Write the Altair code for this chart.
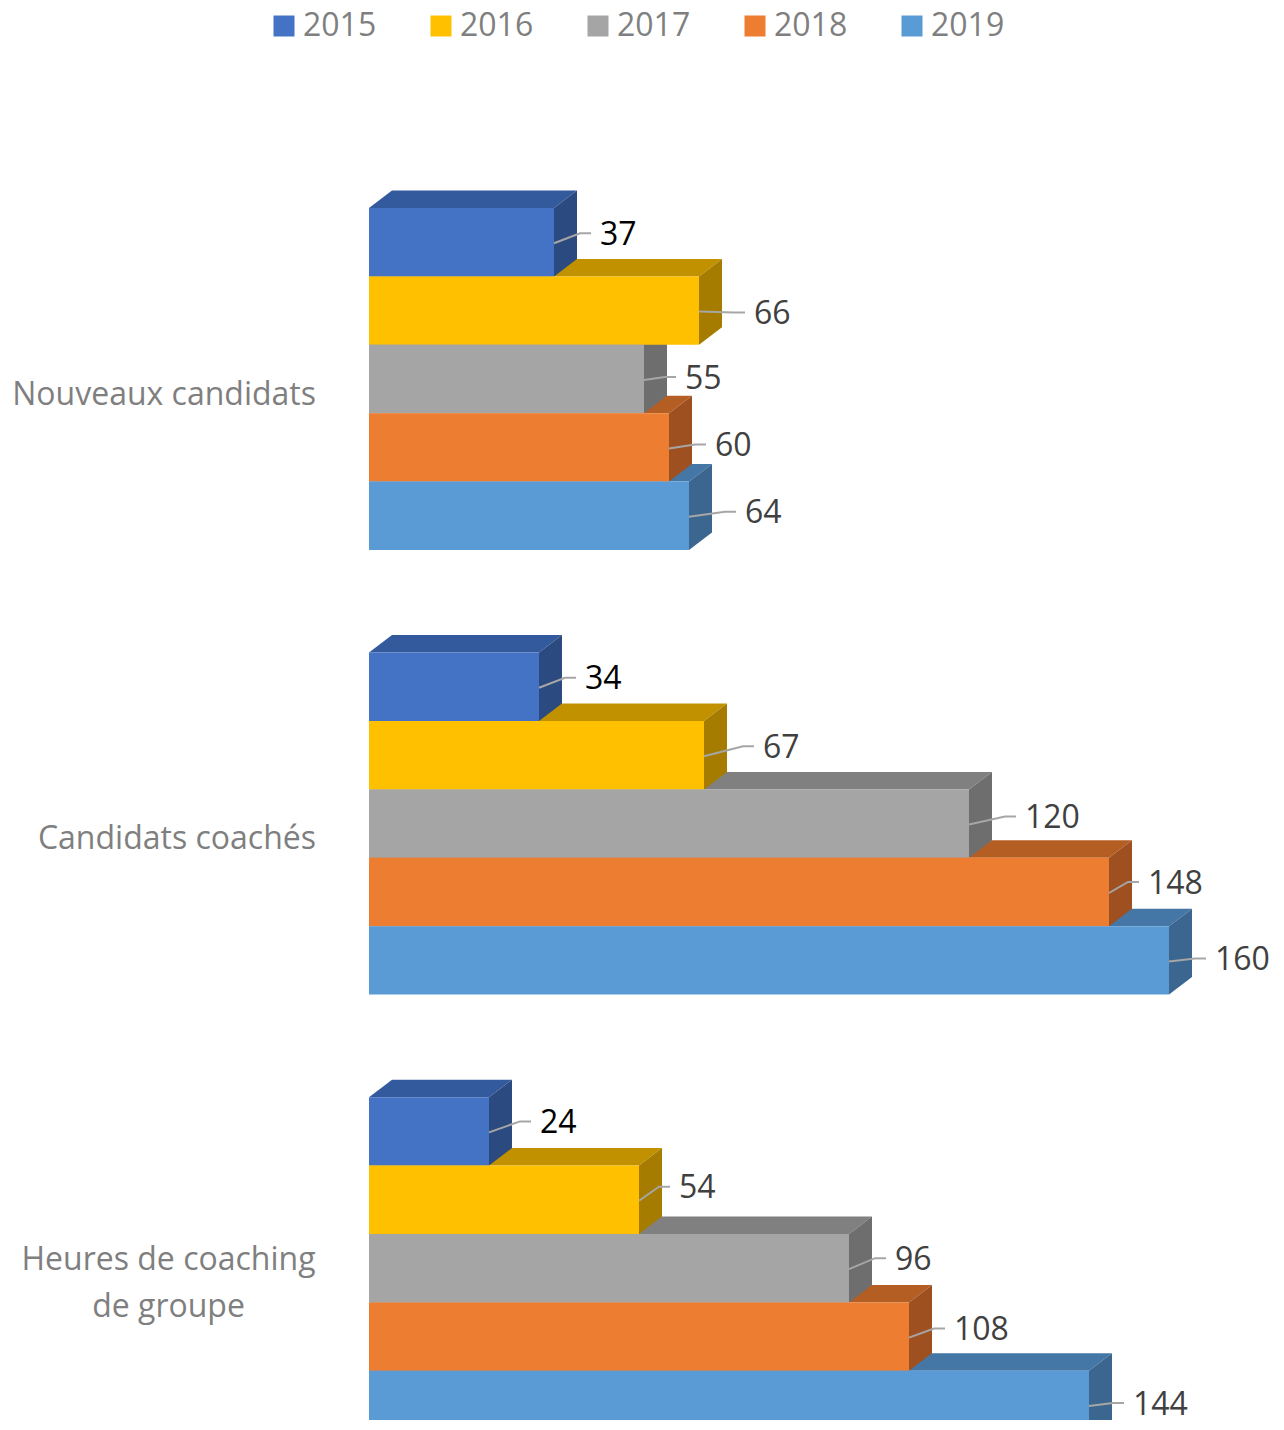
import altair as alt
import pandas as pd

# ---------------- data ----------------
categories = ["Nouveaux candidats", "Candidats coachés", "Heures de coaching\nde groupe"]
years = ["2015", "2016", "2017", "2018", "2019"]
v2015 = [37, 34, 24]
v2016 = [66, 67, 54]
v2017 = [55, 120, 96]
v2018 = [60, 148, 108]
v2019 = [64, 160, 144]
series = [v2015, v2016, v2017, v2018, v2019]

# ---------------- style ----------------
front_colors = ["#4472C4", "#FFC000", "#A5A5A5", "#ED7D31", "#5B9BD5"]
top_colors = ["#335A9D", "#C29100", "#808080", "#B55E24", "#4477A6"]
side_colors = ["#2B4A80", "#A67C00", "#6E6E6E", "#9E5021", "#3B668F"]
label_colors = ["#000000", "#404040", "#404040", "#404040", "#404040"]
# manual label offsets (px) from bar end / bar centre, per category then per year
label_dx = [[46, 55, 41, 46, 56], [46, 59, 56, 39, 46], [51, 40, 46, 45, 44]]
label_dy = [[-9, 2, -2, -3, -4], [-9, -9, -7, -10, -2], [-10, -13, -10, -8, -2]]

FONT = "Open Sans"
W, H = 900, 1412
X_MAX = 180
PX = W / X_MAX            # px per data unit
ROW = 68.4                # bar thickness in px
FIRST_TOP = 200.0         # top of first band (px)
GROUP_PITCH = 6.5 * ROW   # band pitch
DX = 23 / PX              # depth in data units
DY = 17.5                 # depth in px (vertical)
LINE_H = 47               # category label line height
MULTI_W = 295             # width of the widest line of a wrapped category label

front_rows, top_rows, side_rows, lead_rows, lab_rows = [], [], [], [], []
single_rows, multi_rows = [], []
for g, cat in enumerate(categories):
    for i, yr in enumerate(years):
        v = series[i][g]
        top = FIRST_TOP + g * GROUP_PITCH + i * ROW
        bot = top + ROW
        bid = f"{g}-{i}"
        front_rows.append(dict(cat=cat, year=yr, value=v, x0=0, x1=v, y0=top, y1=bot))
        top_rows += [
            dict(id=bid, y=top, xa=0, xb=v, fill=top_colors[i]),
            dict(id=bid, y=top - DY, xa=DX, xb=v + DX, fill=top_colors[i]),
        ]
        side_rows += [
            dict(id=bid, x=v, ya=top, yb=bot, fill=side_colors[i]),
            dict(id=bid, x=v + DX, ya=top - DY, yb=bot - DY, fill=side_colors[i]),
        ]
        cy = top + ROW / 2
        lx_px = v * PX + label_dx[g][i]
        ly = cy + label_dy[g][i]
        lead_rows += [
            dict(id=bid, k=0, x=v, y=cy + 1),
            dict(id=bid, k=1, x=(lx_px - 20) / PX, y=ly),
            dict(id=bid, k=2, x=(lx_px - 9) / PX, y=ly),
        ]
        lab_rows.append(dict(x=lx_px / PX, y=ly + 1.5, text=str(v), color=label_colors[i]))
    centre = FIRST_TOP + g * GROUP_PITCH + 2.5 * ROW + 15.5
    n_lines = cat.count("\n") + 1
    row = dict(y=centre - (n_lines - 1) * LINE_H / 2, text=cat)
    (multi_rows if n_lines > 1 else single_rows).append(row)

front_df = pd.DataFrame(front_rows)
top_df = pd.DataFrame(top_rows)
side_df = pd.DataFrame(side_rows)
lead_df = pd.DataFrame(lead_rows)
lab_df = pd.DataFrame(lab_rows)
single_df = pd.DataFrame(single_rows)
multi_df = pd.DataFrame(multi_rows)

xs = alt.Scale(domain=[0, X_MAX], nice=False, zero=False)
ys = alt.Scale(domain=[0, H], nice=False, zero=False, reverse=True)

top_layer = alt.Chart(top_df).mark_area(orient="horizontal", strokeWidth=0).encode(
    y=alt.Y("y:Q", scale=ys, axis=None),
    x=alt.X("xa:Q", scale=xs, axis=None, stack=None),
    x2="xb:Q",
    detail="id:N",
    fill=alt.Fill("fill:N", scale=None),
)

side_layer = alt.Chart(side_df).mark_area(orient="vertical", strokeWidth=0).encode(
    x=alt.X("x:Q", scale=xs, axis=None),
    y=alt.Y("ya:Q", scale=ys, axis=None, stack=None),
    y2="yb:Q",
    detail="id:N",
    fill=alt.Fill("fill:N", scale=None),
)

front_layer = alt.Chart(front_df).mark_bar(strokeWidth=0).encode(
    x=alt.X("x0:Q", scale=xs, axis=None),
    x2="x1:Q",
    y=alt.Y("y0:Q", scale=ys, axis=None),
    y2="y1:Q",
    color=alt.Color(
        "year:N",
        scale=alt.Scale(domain=years, range=front_colors),
        legend=alt.Legend(
            title=None, orient="none", legendX=-101, legendY=2, direction="horizontal",
            symbolType="square", symbolSize=441, symbolStrokeWidth=0, symbolOpacity=1,
            labelFont=FONT, labelFontSize=32, labelColor="#7F7F7F", labelOffset=3,
            columnPadding=48, padding=0, labelLimit=300,
        ),
    ),
)

lead_layer = alt.Chart(lead_df).mark_line(color="#A6A6A6", strokeWidth=2).encode(
    x=alt.X("x:Q", scale=xs, axis=None),
    y=alt.Y("y:Q", scale=ys, axis=None),
    detail="id:N",
    order="k:Q",
)

lab_layer = alt.Chart(lab_df).mark_text(align="left", baseline="middle", font=FONT, fontSize=32).encode(
    x=alt.X("x:Q", scale=xs, axis=None),
    y=alt.Y("y:Q", scale=ys, axis=None),
    text="text:N",
    color=alt.Color("color:N", scale=None),
)

single_layer = alt.Chart(single_df).mark_text(
    align="right", baseline="middle", font=FONT, fontSize=32, color="#7F7F7F",
).encode(
    x=alt.value(-53),
    y=alt.Y("y:Q", scale=ys, axis=None),
    text="text:N",
)

multi_layer = alt.Chart(multi_df).mark_text(
    align="center", baseline="middle", font=FONT, fontSize=32, color="#7F7F7F",
    lineBreak="\n", lineHeight=LINE_H, dx=-MULTI_W / 2,
).encode(
    x=alt.value(-53),
    y=alt.Y("y:Q", scale=ys, axis=None),
    text="text:N",
)

chart = alt.layer(
    top_layer, side_layer, front_layer, lead_layer, lab_layer, single_layer, multi_layer
).properties(
    width=W, height=H, autosize="none",
    padding={"left": 361, "top": 0, "right": 7, "bottom": 0},
    background="white",
).configure_view(stroke=None)

chart.save("out.html", embed_options={"renderer": "svg", "actions": False})
